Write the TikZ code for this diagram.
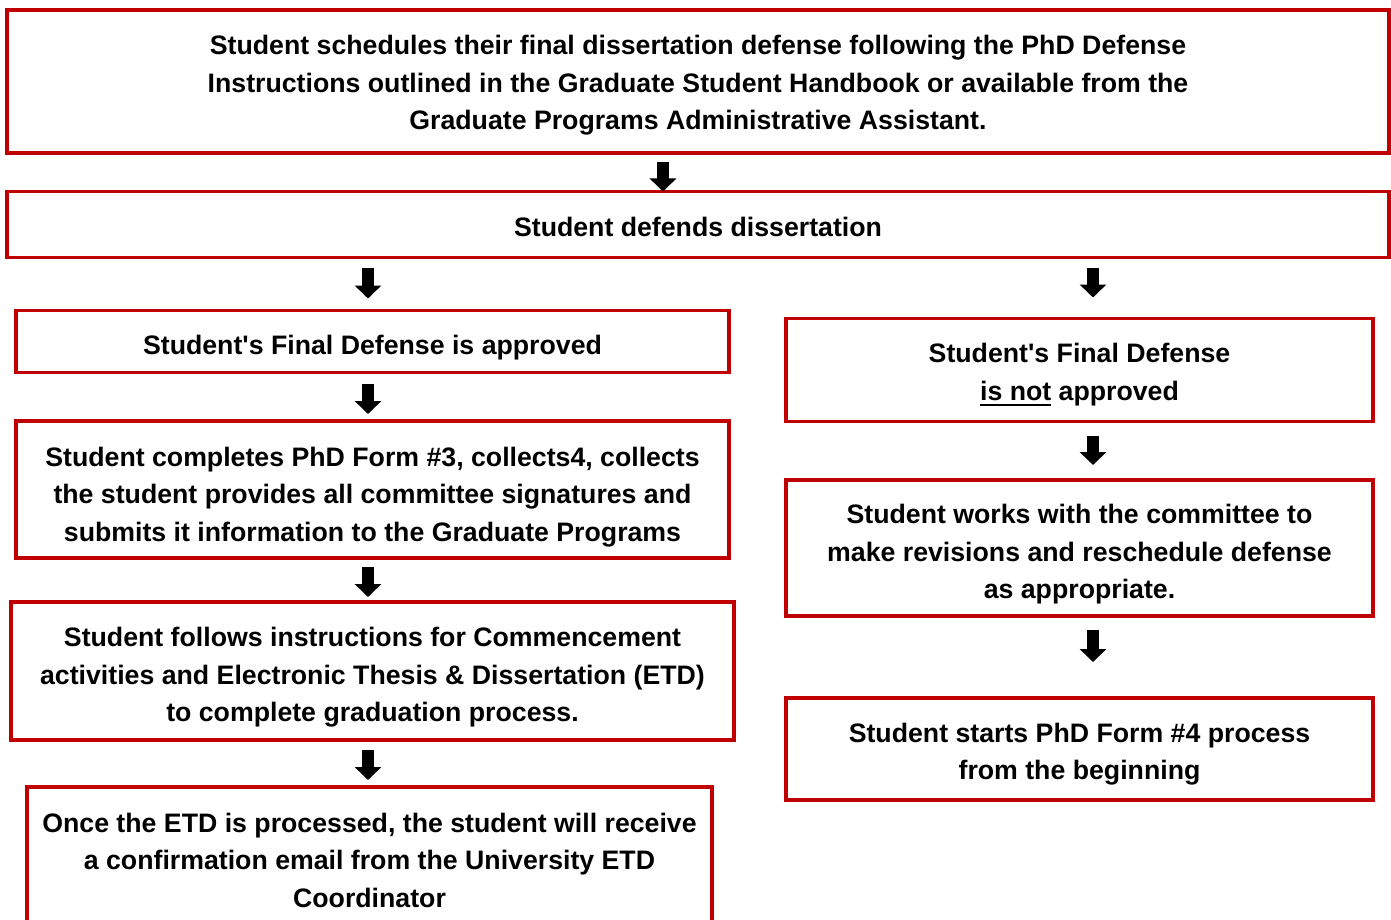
\documentclass[tikz,border=0pt]{standalone}
\usepackage{fontspec}
\setmainfont{Liberation Sans}[Ligatures=TeXOff]
\usetikzlibrary{arrows.meta}
\usetikzlibrary{calc}
\definecolor{boxred}{RGB}{192,0,0}
\tikzset{
  stepbox/.style={draw=boxred,line width=3.5pt,outer sep=0pt,inner sep=0pt,
                  align=center,font=\fontsize{26.7}{37.5}\selectfont\bfseries},
  flow/.style={line width=12pt,-{Triangle[width=26pt,length=13pt]}}}
\newcommand\ulword[1]{\setbox0\hbox{#1}\rlap{\rule[-6pt]{\wd0}{2.5pt}}\box0\relax}
\newcommand\txtdown[1]{\rule{0pt}{#1pt}}

\begin{document}
\begin{tikzpicture}[x=1pt,y=-1pt]
  \clip (0,0) rectangle (1391,920);
  \coordinate (midcol) at (663,0);
  \coordinate (leftcol) at (368,0);
  \coordinate (rightcol) at (1093,0);

  % TOP
  \node[stepbox,minimum width=1382,minimum height=143] (sched) at (698,81.5)
    {\txtdown{27}Student schedules their final dissertation defense following the PhD Defense\\
     Instructions outlined in the Graduate Student Handbook or available from the\\
     Graduate Programs Administrative Assistant.};
  \node[stepbox,minimum width=1382,minimum height=66] (defend) at (698,224.5)
    {\txtdown{24}Student defends dissertation};

  % APPROVED
  \node[stepbox,minimum width=713,minimum height=62] (appr) at (372.5,341.5)
    {\txtdown{32}Student's Final Defense is approved};
  \node[stepbox,minimum width=713,minimum height=137] (formthree) at (372.5,489.5)
    {\txtdown{34}Student completes PhD Form \#3, collects4, collects\\
     the student provides all committee signatures and\\
     submits it information to the Graduate Programs};
  \node[stepbox,minimum width=723,minimum height=138] (commence) at (372.5,671)
    {\txtdown{32}Student follows instructions for Commencement\\
     activities and Electronic Thesis \& Dissertation (ETD)\\
     to complete graduation process.};
  \node[stepbox,minimum width=685,minimum height=146] (etd) at (369.5,860)
    {Once the ETD is processed, the student will receive\\
     a confirmation email from the University ETD\\
     Coordinator};

  % NOT APPROVED
  \node[stepbox,minimum width=587,minimum height=103] (notappr) at (1079.5,370)
    {\txtdown{29}Student's Final Defense\\
     \ulword{is not} approved};
  \node[stepbox,minimum width=587,minimum height=136] (revise) at (1079.5,548)
    {\txtdown{32}Student works with the committee to\\
     make revisions and reschedule defense\\
     as appropriate.};
  \node[stepbox,minimum width=587,minimum height=102] (restart) at (1079.5,749)
    {\txtdown{30}Student starts PhD Form \#4 process\\
     from the beginning};

  % ARROWS
  \draw[flow,shorten <=9pt,shorten >=0pt] (sched.south -| midcol) -- (defend.north -| midcol);
  \draw[flow,shorten <=10pt,shorten >=12pt] (defend.south -| leftcol) -- (appr.north -| leftcol);
  \draw[flow,shorten <=11pt,shorten >=7pt] (appr.south -| leftcol) -- (formthree.north -| leftcol);
  \draw[flow,shorten <=9pt,shorten >=5pt] (formthree.south -| leftcol) -- (commence.north -| leftcol);
  \draw[flow,shorten <=10pt,shorten >=7pt] (commence.south -| leftcol) -- (etd.north -| leftcol);
  \draw[flow,shorten <=10pt,shorten >=21pt] (defend.south -| rightcol) -- (notappr.north -| rightcol);
  \draw[flow,shorten <=14pt,shorten >=15pt] (notappr.south -| rightcol) -- (revise.north -| rightcol);
  \draw[flow,shorten <=14pt,shorten >=36pt] (revise.south -| rightcol) -- (restart.north -| rightcol);
\end{tikzpicture}
\end{document}
